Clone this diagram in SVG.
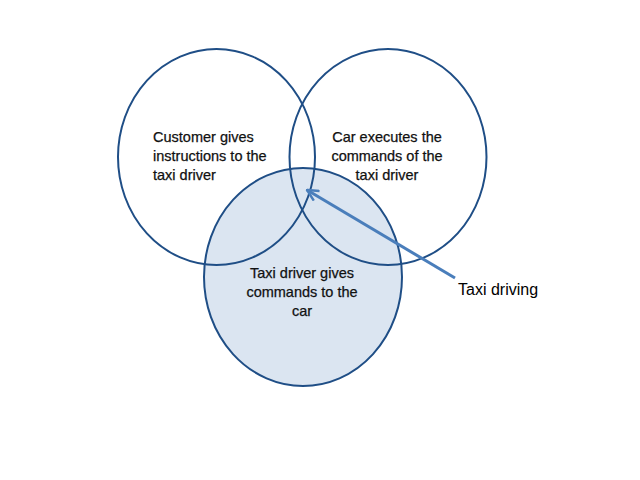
<svg xmlns="http://www.w3.org/2000/svg" width="640" height="480" viewBox="0 0 640 480">
<defs>
<style>
.c{stroke:#1F4E86;stroke-width:2;}
.t{font-family:"Liberation Sans",Arial,sans-serif;font-size:14.5px;fill:#111;stroke:#111;stroke-width:0.25;}
.m{text-anchor:middle;}
.lbl{font-family:"Liberation Sans",Arial,sans-serif;font-size:16px;fill:#000;}
</style>
<marker id="ah" viewBox="0 0 12 12" refX="11" refY="6" markerWidth="4.5" markerHeight="4.5" orient="auto" markerUnits="strokeWidth">
<path d="M1,1 L11,6 L1,11" fill="none" stroke="#4A7EBB" stroke-width="2.2"/>
</marker>
</defs>
<rect width="640" height="480" fill="#fff"/>
<g id="node-bottom">
<ellipse class="c" cx="303" cy="277" rx="99" ry="109" fill="#DBE5F1"/>
</g>
<g id="node-left">
<ellipse class="c" cx="216.5" cy="157" rx="98.5" ry="108" fill="none"/>
<text class="t" x="153" y="142">Customer gives</text>
<text class="t" x="153" y="161">instructions to the</text>
<text class="t" x="153" y="180">taxi driver</text>
</g>
<g id="node-right">
<ellipse class="c" cx="388" cy="157" rx="98.5" ry="108" fill="none"/>
<text class="t m" x="387" y="142">Car executes the</text>
<text class="t m" x="387" y="161">commands of the</text>
<text class="t m" x="387" y="180">taxi driver</text>
</g>
<g id="node-bottom-text">
<text class="t m" x="302" y="278">Taxi driver gives</text>
<text class="t m" x="302" y="297">commands to the</text>
<text class="t m" x="302" y="316">car</text>
</g>
<g id="connectors">
<line x1="455" y1="278" x2="307" y2="190" stroke="#4A7EBB" stroke-width="3" marker-end="url(#ah)"/>
</g>
<g id="node-label">
<text class="lbl" x="458" y="295">Taxi driving</text>
</g>
</svg>
